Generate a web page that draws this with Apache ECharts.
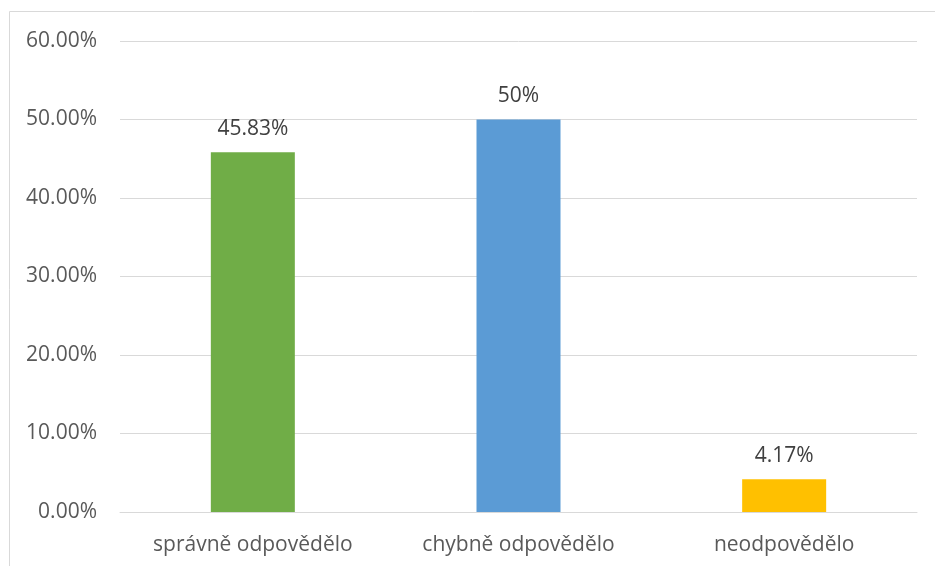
<!DOCTYPE html>
<html><head><meta charset="utf-8">
<script src="https://cdn.jsdelivr.net/npm/echarts@6/dist/echarts.min.js"></script>
<style>html,body{margin:0;padding:0;background:#fff}#c{width:935px;height:566px}</style>
</head><body><div id="c"></div>
<script>
const categories = ['správně odpovědělo', 'chybně odpovědělo', 'neodpovědělo'];
const values = [45.83, 50, 4.17];
const colors = ['#70ad47', '#5b9bd5', '#ffc000'];
const yTicks = [0, 10, 20, 30, 40, 50, 60];

const chart = echarts.init(document.getElementById('c'), null, {renderer: 'canvas'});
const font = '"Open Sans", "Noto Sans", sans-serif';
chart.setOption({
  animation: false,
  graphic: [{
    type: 'rect', shape: {x: 9.5, y: 11.5, width: 1000, height: 1000},
    style: {fill: 'none', stroke: '#d9d9d9', lineWidth: 1}, silent: true
  }],
  grid: {left: 120, right: 18, top: 41, bottom: 54, containLabel: false},
  xAxis: {
    type: 'category', data: categories,
    axisLine: {show: true, lineStyle: {color: '#d9d9d9', width: 1}},
    axisTick: {show: false},
    axisLabel: {color: '#595959', fontSize: 21, fontFamily: font, margin: 23}
  },
  yAxis: {
    type: 'value', min: yTicks[0], max: yTicks[yTicks.length - 1], interval: 10,
    axisLine: {show: false}, axisTick: {show: false},
    splitLine: {lineStyle: {color: '#d9d9d9', width: 1}},
    axisLabel: {color: '#595959', fontSize: 21, fontFamily: font, margin: 23,
      formatter: v => v.toFixed(2) + '%'}
  },
  series: [{
    type: 'bar', barWidth: 84,
    data: values.map((v, i) => ({value: v, itemStyle: {color: colors[i]}})),
    label: {show: true, position: 'top', distance: 13, color: '#404040', fontSize: 21, fontFamily: font,
      formatter: p => p.value + '%'}
  }]
});
</script></body></html>
